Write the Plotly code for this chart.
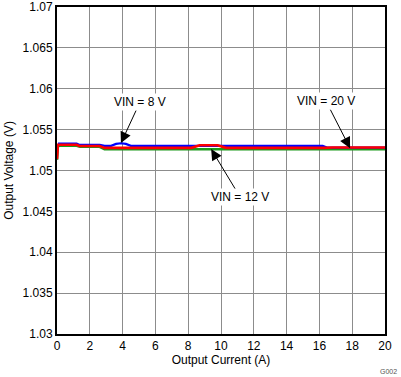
import plotly.graph_objects as go

# ---- data ----
x_vin8 = [0.06, 1.2, 1.35, 2.6, 2.9, 3.3, 3.6, 3.9, 4.2, 4.5, 8.0, 12.0, 16.2, 16.5, 20.0]
y_vin8 = [1.05328, 1.05328, 1.05315, 1.05315, 1.05301, 1.05301, 1.05325, 1.05333, 1.05325, 1.05301, 1.05301, 1.05301, 1.05301, 1.05279, 1.05279]

x_vin12 = [0.0, 0.06, 1.2, 1.4, 2.6, 2.9, 20.0]
y_vin12 = [1.0513, 1.05303, 1.05303, 1.05290, 1.05290, 1.05259, 1.05259]

x_vin20 = [0.0, 0.06, 1.2, 1.35, 2.6, 2.9, 8.2, 8.7, 9.8, 10.3, 16.3, 16.8, 20.0]
y_vin20 = [1.0514, 1.05315, 1.05315, 1.05300, 1.05300, 1.05277, 1.05277, 1.05308, 1.05308, 1.05277, 1.05277, 1.05281, 1.05281]

x_ticks = [0, 2, 4, 6, 8, 10, 12, 14, 16, 18, 20]
x_ticktext = ["0", "2", "4", "6", "8", "10", "12", "14", "16", "18", "20"]
y_ticks = [1.03, 1.035, 1.04, 1.045, 1.05, 1.055, 1.06, 1.065, 1.07]
y_ticktext = ["1.03", "1.035", "1.04", "1.045", "1.05", "1.055", "1.06", "1.065", "1.07"]

labels = ["VIN = 8 V", "VIN = 12 V", "VIN = 20 V"]
label_x = [3.9, 9.4, 17.87]
label_y = [1.05335, 1.05262, 1.05272]

FONT = "Liberation Sans, Arial, sans-serif"

fig = go.Figure()
fig.add_trace(go.Scatter(x=x_vin12, y=y_vin12, mode="lines", line=dict(color="#1a9a1a", width=2.5), name="VIN = 12 V"))
fig.add_trace(go.Scatter(x=x_vin8, y=y_vin8, mode="lines", line=dict(color="#0000ff", width=2.2), name="VIN = 8 V"))
fig.add_trace(go.Scatter(x=x_vin20, y=y_vin20, mode="lines", line=dict(color="#ff0000", width=2.6), name="VIN = 20 V"))

offsets = [(19, -41), (29, 48), (-24, -47)]
for t, xv, yv, (ax, ay) in zip(labels, label_x, label_y, offsets):
    fig.add_annotation(x=xv, y=yv, xref="x", yref="y", text=t, showarrow=True,
                       ax=ax, ay=ay, arrowhead=2, arrowsize=2.2, arrowwidth=1,
                       arrowcolor="black", font=dict(family=FONT, size=12, color="black"),
                       bgcolor="white")

fig.add_annotation(x=1.0, y=0, xref="paper", yref="paper", xanchor="right", yanchor="middle",
                   xshift=14, yshift=-37, text="G002", showarrow=False,
                   font=dict(family=FONT, size=7, color="#555555"))

fig.update_layout(
    width=401, height=377,
    margin=dict(l=57, r=16, t=7, b=43),
    paper_bgcolor="white", plot_bgcolor="white",
    showlegend=False,
    font=dict(family=FONT, size=12, color="black"),
)
fig.update_xaxes(range=[0, 20], tickvals=x_ticks, ticktext=x_ticktext,
                 showgrid=True, gridcolor="#8c8c8c", gridwidth=1,
                 showline=True, linecolor="black", linewidth=2, mirror=True,
                 ticks="", zeroline=False, automargin=False, ticklabeloverflow="allow",
                 title=dict(text="Output Current (A)", standoff=0,
                            font=dict(family=FONT, size=12, color="black")),
                 tickfont=dict(family=FONT, size=12, color="black"))
fig.update_yaxes(range=[1.03, 1.07], tickvals=y_ticks, ticktext=y_ticktext,
                 showgrid=True, gridcolor="#8c8c8c", gridwidth=1,
                 showline=True, linecolor="black", linewidth=2, mirror=True,
                 ticks="", zeroline=False, automargin=False, ticklabeloverflow="allow",
                 title=dict(text="Output Voltage (V)", standoff=6,
                            font=dict(family=FONT, size=12, color="black")),
                 tickfont=dict(family=FONT, size=12, color="black"))

fig.write_html("out.html", config={"displayModeBar": False},
               post_script="document.body.style.margin='0';document.body.style.overflow='hidden';")
